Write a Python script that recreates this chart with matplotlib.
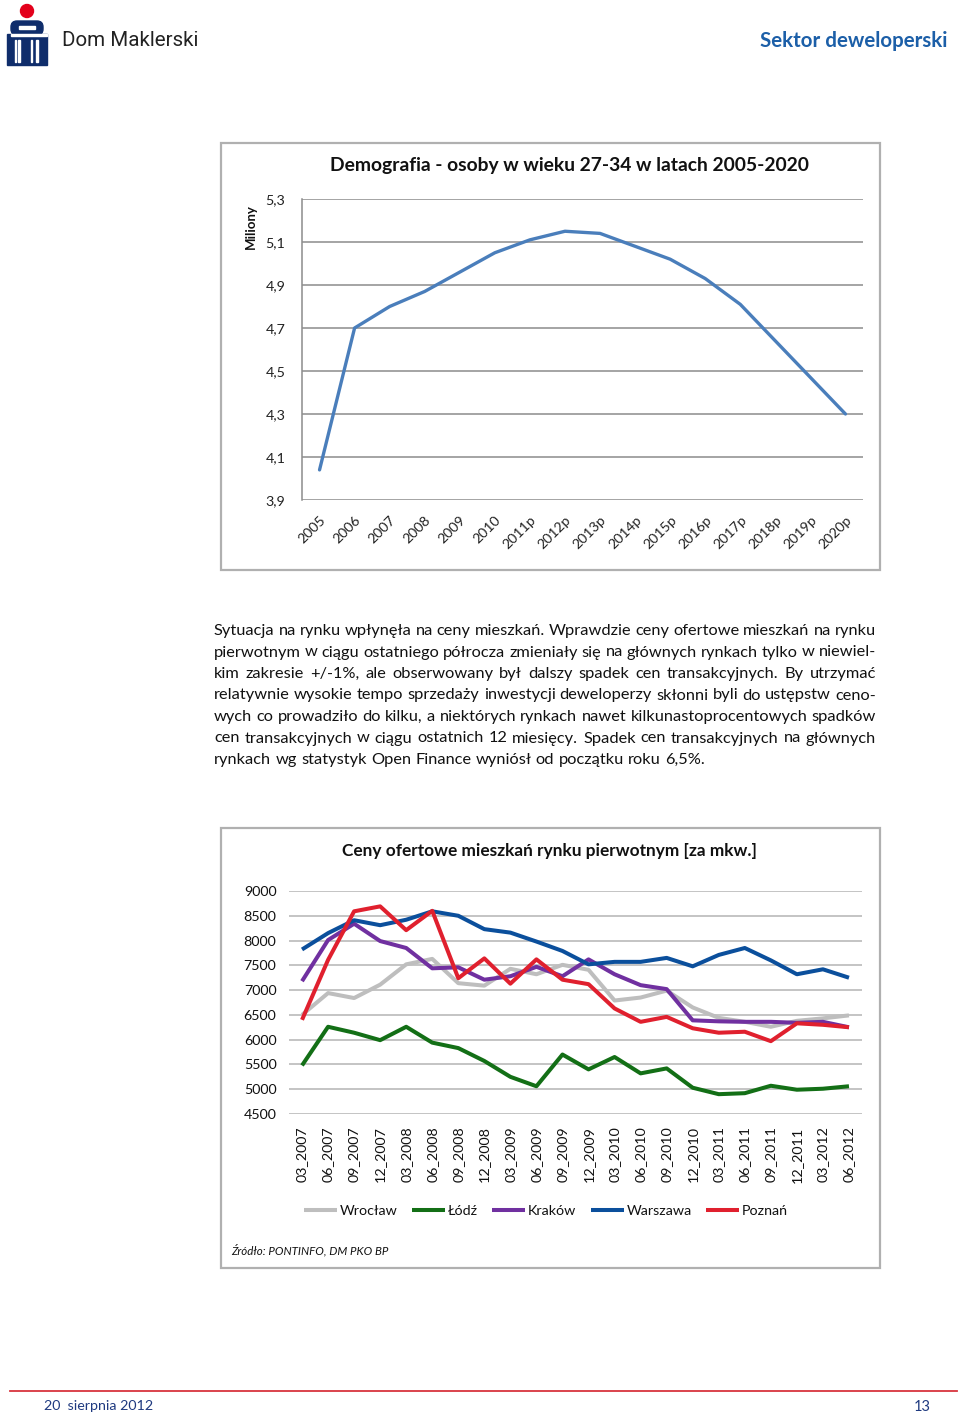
import matplotlib
matplotlib.use("Agg")
import matplotlib.pyplot as plt
from matplotlib.patches import Rectangle, Circle, FancyBboxPatch

W, H = 960, 1419
FONT = "Lato"

# ---------------- data ----------------
years = ["2005", "2006", "2007", "2008", "2009", "2010", "2011p", "2012p",
         "2013p", "2014p", "2015p", "2016p", "2017p", "2018p", "2019p", "2020p"]
population = [4.04, 4.70, 4.80, 4.87, 4.96, 5.05, 5.11, 5.15,
              5.14, 5.08, 5.02, 4.93, 4.81, 4.64, 4.47, 4.30]
pop_ticks = [3.9, 4.1, 4.3, 4.5, 4.7, 4.9, 5.1, 5.3]

quarters = ["03_2007", "06_2007", "09_2007", "12_2007", "03_2008", "06_2008",
            "09_2008", "12_2008", "03_2009", "06_2009", "09_2009", "12_2009",
            "03_2010", "06_2010", "09_2010", "12_2010", "03_2011", "06_2011",
            "09_2011", "12_2011", "03_2012", "06_2012"]
wroclaw = [6500, 6940, 6840, 7110, 7520, 7630, 7140, 7090, 7430, 7320, 7510,
           7410, 6790, 6850, 6990, 6650, 6440, 6360, 6260, 6380, 6430, 6490]
lodz = [5480, 6260, 6140, 5990, 6260, 5940, 5830, 5570, 5250, 5060, 5700,
        5400, 5650, 5320, 5420, 5030, 4900, 4920, 5070, 4990, 5010, 5060]
krakow = [7180, 8010, 8340, 7990, 7850, 7440, 7460, 7210, 7280, 7470, 7280,
          7620, 7320, 7100, 7020, 6390, 6370, 6360, 6360, 6340, 6360, 6250]
warszawa = [7820, 8150, 8410, 8310, 8420, 8590, 8500, 8230, 8160, 7980, 7790,
            7520, 7570, 7570, 7650, 7480, 7710, 7850, 7600, 7320, 7420, 7250]
poznan = [6400, 7610, 8590, 8690, 8210, 8600, 7240, 7640, 7130, 7620, 7210,
          7120, 6630, 6360, 6460, 6230, 6140, 6160, 5970, 6330, 6300, 6250]
price_ticks = [4500, 5000, 5500, 6000, 6500, 7000, 7500, 8000, 8500, 9000]

series_names = ["Wrocław", "Łódź", "Kraków", "Warszawa", "Poznań"]
series_vals = [wroclaw, lodz, krakow, warszawa, poznan]
series_cols = ["#BEBEBE", "#136F16", "#7030A0", "#0B4F9C", "#E0202E"]

paragraph = [
    "Sytuacja na rynku wpłynęła na ceny mieszkań. Wprawdzie ceny ofertowe mieszkań na rynku",
    "pierwotnym w ciągu ostatniego półrocza zmieniały się na głównych rynkach tylko w niewiel-",
    "kim zakresie +/-1%, ale obserwowany był dalszy spadek cen transakcyjnych. By utrzymać",
    "relatywnie wysokie tempo sprzedaży inwestycji deweloperzy skłonni byli do ustępstw ceno-",
    "wych co prowadziło do kilku, a niektórych rynkach nawet kilkunastoprocentowych spadków",
    "cen transakcyjnych w ciągu ostatnich 12 miesięcy. Spadek cen transakcyjnych na głównych",
    "rynkach wg statystyk Open Finance wyniósł od początku roku 6,5%.",
]

# ---------------- figure ----------------
plt.rcParams["font.family"] = [FONT, "DejaVu Sans"]
fig = plt.figure(figsize=(W / 100, H / 100), dpi=100)
fig.patch.set_facecolor("white")

bg = fig.add_axes([0, 0, 1, 1], zorder=0)
bg.set_xlim(0, W)
bg.set_ylim(H, 0)
bg.axis("off")


def rect(x0, y0, x1, y1):
    return [x0 / W, 1 - y1 / H, (x1 - x0) / W, (y1 - y0) / H]


# ---- header ----
navy = "#0F2D6B"
bg.add_patch(Circle((27, 11), 6.5, color="#E3001B"))
bg.add_patch(FancyBboxPatch((11, 21), 32, 14, boxstyle="round,pad=0,rounding_size=6",
                            color=navy))
bg.add_patch(Rectangle((7, 34), 40, 31, color=navy))
bg.add_patch(Rectangle((19, 26), 16, 2.5, color="white"))
bg.add_patch(Rectangle((11, 34), 36, 2.0, color="white"))
for xs in (14.5, 18, 30.5, 36):
    bg.add_patch(Rectangle((xs, 40), 1.6, 22, color="white"))
bg.text(62, 41, "Dom Maklerski", fontsize=14.8, family="Roboto", color="#222222",
        va="center", ha="left")
bg.text(947, 41, "Sektor deweloperski", fontsize=14.8, fontweight="bold",
        color="#1C5FA8", va="center", ha="right")

# ---- chart boxes ----
for (x0, y0, x1, y1) in [(221, 143, 880, 570), (221, 828, 880, 1268)]:
    bg.add_patch(Rectangle((x0, y0), x1 - x0, y1 - y0, fill=False,
                           edgecolor="#B0B0B0", lw=1.6))

# ---- top chart ----
ax1 = fig.add_axes(rect(302, 199, 863, 500), zorder=2)
ax1.set_facecolor("none")
ax1.plot(range(len(years)), population, color="#4A7EBB", lw=2.4,
         solid_joinstyle="round", solid_capstyle="round")
ax1.set_xlim(-0.5, len(years) - 0.5)
ax1.set_ylim(pop_ticks[0], pop_ticks[-1])
ax1.set_yticks(pop_ticks)
ax1.set_yticklabels([f"{v:.1f}".replace(".", ",") for v in pop_ticks],
                    fontsize=10.3, color="#222222")
ax1.set_xticks(range(len(years)))
ax1.set_xticklabels(years, rotation=45, ha="right", va="top",
                    rotation_mode="anchor", fontsize=10.2, color="#222222")
ax1.tick_params(axis="y", length=0, pad=12)
ax1.tick_params(axis="x", length=0, pad=10)
ax1.grid(axis="y", color="#8C8C8C", lw=1.1)
for s in ("top", "right", "bottom"):
    ax1.spines[s].set_visible(False)
ax1.spines["left"].set_color("#8C8C8C")
ax1.spines["left"].set_linewidth(1.1)
ax1.set_axisbelow(True)

bg.text(569, 165, "Demografia - osoby w wieku 27-34 w latach 2005-2020",
        fontsize=13.9, fontweight="bold", ha="center", va="center", color="#111111")
bg.text(251, 227, "Miliony", fontsize=9.5, fontweight="bold", rotation=90,
        ha="center", va="center", color="#111111")

# ---- paragraph (justified) ----
renderer = fig.canvas.get_renderer()
PX0, PX1 = 214, 876
PSIZE = 11.8
line_ys = [631, 652.5, 674, 695.5, 717, 738.5, 760]


def text_width(s):
    t = bg.text(0, 0, s, fontsize=PSIZE)
    w = t.get_window_extent(renderer).width
    t.remove()
    return w


space_w = text_width("a a") - text_width("aa")
for i, (line, y) in enumerate(zip(paragraph, line_ys)):
    words = line.split(" ")
    widths = [text_width(w) for w in words]
    last = i == len(paragraph) - 1
    if last:
        gap = space_w
    else:
        gap = (PX1 - PX0 - sum(widths)) / (len(words) - 1)
    x = PX0
    for w, wd in zip(words, widths):
        bg.text(x, y, w, fontsize=PSIZE, ha="left", va="center", color="#111111")
        x += wd + gap

# ---- bottom chart ----
ax2 = fig.add_axes(rect(289, 891, 862, 1114), zorder=2)
ax2.set_facecolor("none")
xs = range(len(quarters))
for name, vals, col in zip(series_names, series_vals, series_cols):
    ax2.plot(xs, vals, color=col, lw=2.9, label=name,
             solid_joinstyle="round", solid_capstyle="butt")
ax2.set_xlim(-0.5, len(quarters) - 0.5)
ax2.set_ylim(price_ticks[0], price_ticks[-1])
ax2.set_yticks(price_ticks)
ax2.set_yticklabels([str(v) for v in price_ticks], fontsize=10.3, color="#111111")
ax2.set_xticks(list(xs))
ax2.set_xticklabels(quarters, rotation=90, ha="center", va="top", fontsize=10.3,
                    color="#111111")
ax2.tick_params(axis="y", length=0, pad=9)
ax2.tick_params(axis="x", length=0, pad=9)
ax2.grid(axis="y", color="#B4B4B4", lw=1.1)
for s in ax2.spines.values():
    s.set_visible(False)
ax2.set_axisbelow(True)

bg.text(549, 851, "Ceny ofertowe mieszkań rynku pierwotnym [za mkw.]",
        fontsize=12.4, fontweight="bold", ha="center", va="center", color="#111111")

leg = ax2.legend(loc="center", bbox_to_anchor=(546 / W, 1 - 1211 / H),
                 bbox_transform=fig.transFigure, ncol=5, frameon=False,
                 fontsize=10.3, handlelength=2.3, handletextpad=0.2,
                 columnspacing=1.0, borderaxespad=0)
for t in leg.get_texts():
    t.set_color("#111111")

bg.text(231, 1250, "Źródło: PONTINFO, DM PKO BP", fontsize=8.3, style="italic",
        ha="left", va="center", color="#111111")

# ---- footer ----
bg.plot([10, 957], [1391, 1391], color="#D8343E", lw=1.3)
bg.text(44, 1406, "20  sierpnia 2012", fontsize=10.3, color="#1F3A80",
        ha="left", va="center")
bg.text(931, 1407, "13", fontsize=10.5, color="#1F3A80", ha="right", va="center")

fig.savefig("out.png", dpi=100, facecolor="white")
